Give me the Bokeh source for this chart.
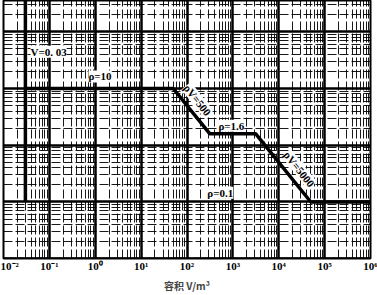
from bokeh.plotting import figure
from bokeh.models import Range1d, FixedTicker, CustomJSTickFormatter, Label
from bokeh.embed import file_html
from bokeh.resources import INLINE

# ---- data ----
curve_V = [0.03, 50, 312.5, 3125, 50000, 1e6]      # m^3
curve_rho = [10, 10, 1.6, 1.6, 0.1, 0.1]
limit_V = [0.03, 0.03]
limit_rho = [0.1, 355]
x_decades = [-2, -1, 0, 1, 2, 3, 4, 5, 6]
y_decades = [-2, -1, 0, 1, 2]

x_major = [10.0 ** d for d in x_decades]
x_minor = [k * 10.0 ** d for d in x_decades[:-1] for k in range(2, 10)]
y_major = [10.0 ** d for d in y_decades]
y_minor = [k * 10.0 ** d for d in y_decades for k in range(2, 10)]

p = figure(width=377, height=295, x_axis_type="log", y_axis_type="log",
           x_range=Range1d(1e-2, 1e6), y_range=Range1d(0.0101, 355),
           output_backend="svg", toolbar_location=None,
           min_border_left=3, min_border_right=7, min_border_top=0,
           min_border_bottom=33)

p.outline_line_color = "black"
p.outline_line_width = 2

p.xaxis.ticker = FixedTicker(ticks=x_major, minor_ticks=x_minor)
p.yaxis.ticker = FixedTicker(ticks=y_major, minor_ticks=y_minor)
p.yaxis.visible = False

fmt = CustomJSTickFormatter(code="""
const e = Math.round(Math.log10(tick));
const sup = {'-':'\u207b','0':'\u2070','1':'\u00b9','2':'\u00b2','3':'\u00b3',
             '4':'\u2074','5':'\u2075','6':'\u2076','7':'\u2077','8':'\u2078','9':'\u2079'};
return '10' + String(e).split('').map(c => sup[c]).join('');
""")
ax = p.xaxis[0]
ax.formatter = fmt
ax.axis_line_color = None
ax.major_tick_line_color = None
ax.minor_tick_line_color = None
ax.major_tick_out = 0
ax.major_tick_in = 0
ax.minor_tick_out = 0
ax.minor_tick_in = 0
ax.major_label_standoff = 1
ax.major_label_text_font = "Liberation Serif"
ax.major_label_text_font_style = "bold"
ax.major_label_text_font_size = "11px"
ax.major_label_text_color = "black"
ax.axis_label = "容积 V/m³"
ax.axis_label_text_font = "Noto Sans CJK SC"
ax.axis_label_text_font_style = "bold"
ax.axis_label_text_font_size = "10px"
ax.axis_label_standoff = 3

for g in (p.xgrid[0], p.ygrid[0]):
    g.grid_line_color = "black"
    g.grid_line_width = 2.5
    g.grid_line_alpha = 1
    g.minor_grid_line_color = "black"
    g.minor_grid_line_width = 1
    g.minor_grid_line_alpha = 0.9
    g.minor_grid_line_dash = "9 3"

p.line(curve_V, curve_rho, line_color="black", line_width=3.5)
p.line(limit_V, limit_rho, line_color="black", line_width=3.5)

labels = [
    # text, x, y, angle, baseline, x_offset, y_offset
    ("V=0. 03", 0.0387, 44.4, 0.0, "middle", 0, 0),
    ("ρ=10", 0.71, 16.3, 0.0, "middle", 0, 0),
    ("ρV=500", 58.7, 8.5, -0.9, "bottom", 5, 3),
    ("ρ=1.6", 483, 2.21, 0.0, "middle", 0, 0),
    ("ρV=5000", 8870, 0.564, -0.9, "bottom", 5, 3),
    ("ρ=0.1", 278, 0.146, 0.0, "middle", 0, 0),
]
for txt, xv, yv, ang, bl, xo, yo in labels:
    p.add_layout(Label(x=xv, y=yv, text=txt, angle=ang,
                       x_offset=xo, y_offset=yo,
                       text_font="Liberation Serif", text_font_style="bold",
                       text_font_size="11px", text_color="black",
                       text_baseline=bl, text_align="left",
                       background_fill_color="white",
                       background_fill_alpha=1.0))

open("out.html", "w").write(file_html(p, INLINE))
